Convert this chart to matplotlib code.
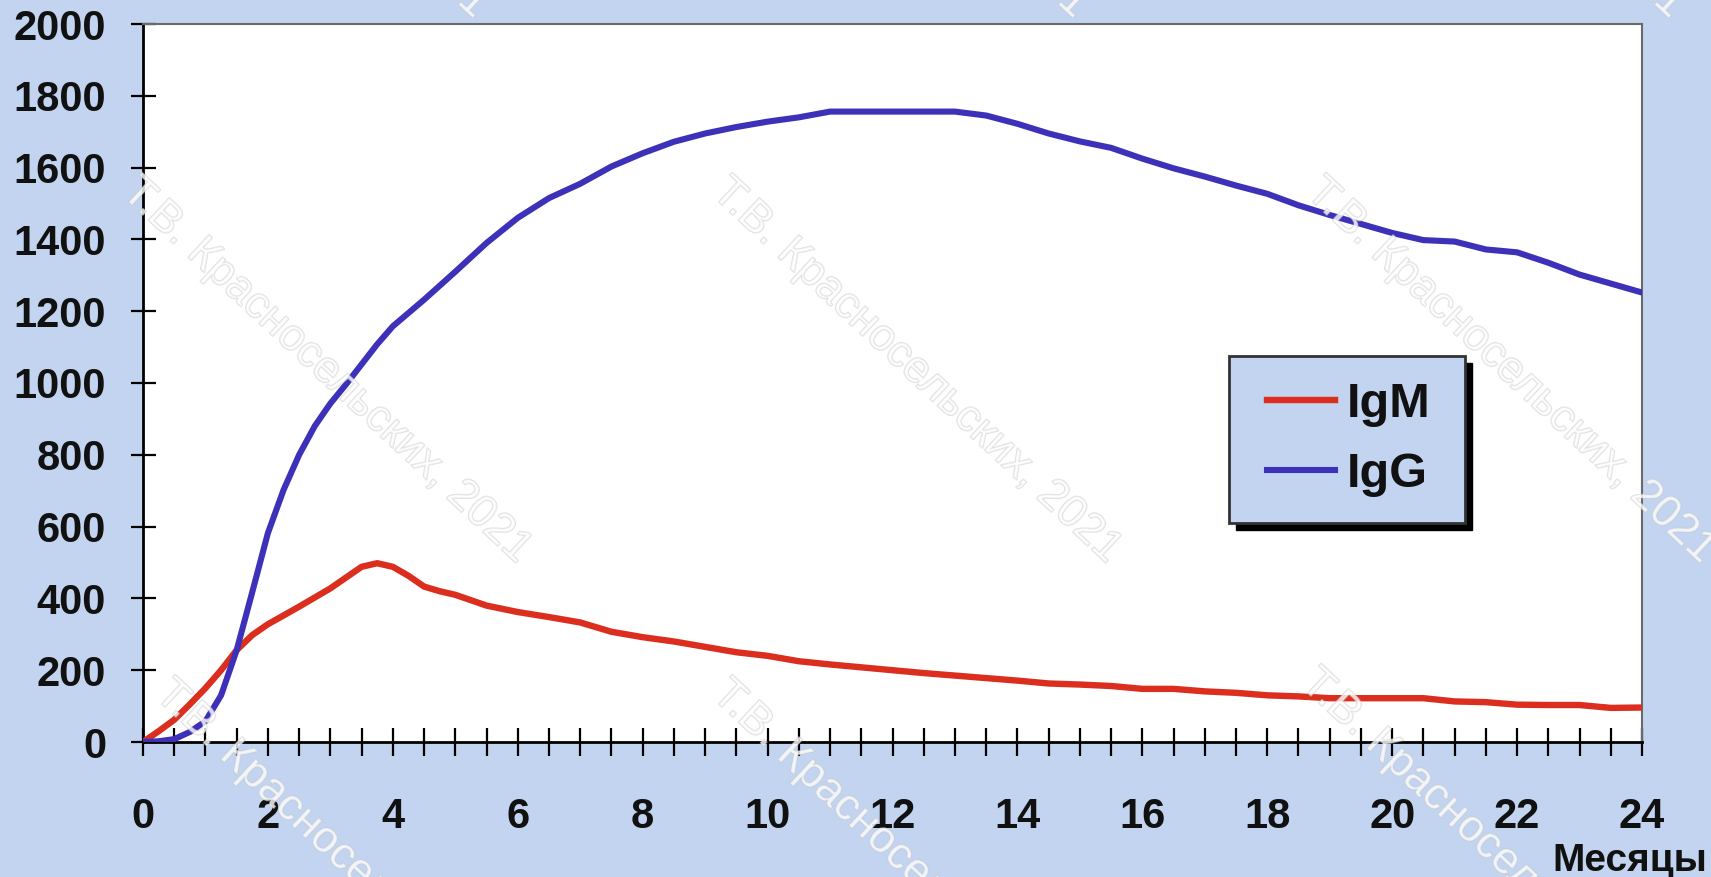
import matplotlib
matplotlib.use('Agg')
import matplotlib.pyplot as plt
from matplotlib import font_manager as fm
from matplotlib.ticker import MultipleLocator
from matplotlib.patches import Rectangle
import matplotlib.patheffects as pe

# ---- data ----
months_igg = [0, 0.25, 0.5, 0.75, 1.0, 1.25, 1.5, 1.75, 2.0, 2.25, 2.5, 2.75, 3.0, 3.25, 3.5,
              3.75, 4.0, 4.5, 5.0, 5.5, 6.0, 6.5, 7.0, 7.5, 8.0, 8.5, 9.0, 9.5, 10.0, 10.5,
              11.0, 12.0, 13.0, 13.5, 14.0, 14.5, 15.0, 15.5, 16.0, 16.5, 17.0, 17.5, 18.0,
              18.5, 19.0, 19.5, 20.0, 20.5, 21.0, 21.5, 22.0, 22.5, 23.0, 23.5, 24.0]
igg = [0, 2, 8, 28, 58, 130, 256, 418, 582, 702, 800, 880, 943, 996, 1052,
       1108, 1158, 1232, 1310, 1390, 1460, 1515, 1555, 1603, 1640, 1672, 1695, 1713, 1728, 1740,
       1756, 1756, 1756, 1745, 1722, 1695, 1673, 1655, 1625, 1598, 1575, 1550, 1527,
       1495, 1468, 1443, 1418, 1398, 1394, 1372, 1364, 1335, 1302, 1277, 1252]

months_igm = [0, 0.25, 0.5, 0.75, 1.0, 1.25, 1.5, 1.75, 2.0, 2.5, 3.0, 3.25, 3.5, 3.75, 4.0,
              4.25, 4.5, 4.75, 5.0, 5.5, 6.0, 6.5, 7.0, 7.5, 8.0, 8.5, 9.0, 9.5, 10.0, 10.5,
              11.0, 11.5, 12.0, 12.5, 13.0, 13.5, 14.0, 14.5, 15.0, 15.5, 16.0, 16.5, 17.0,
              17.5, 18.0, 18.5, 19.0, 19.5, 20.0, 20.5, 21.0, 21.5, 22.0, 22.5, 23.0, 23.5, 24.0]
igm = [0, 30, 62, 105, 150, 200, 256, 298, 328, 377, 428, 458, 488, 498, 488,
       463, 433, 420, 410, 380, 362, 348, 333, 307, 292, 280, 265, 250, 240, 225,
       216, 208, 200, 192, 185, 178, 171, 163, 160, 156, 148, 148, 141,
       137, 130, 127, 122, 122, 122, 122, 113, 111, 104, 103, 103, 95, 96]

x_ticks = list(range(0, 25, 2))
y_ticks = list(range(0, 2001, 200))
series_labels = ['IgM', 'IgG']
x_label = 'Месяцы'
watermark = 'Т.В. Красносельских, 2021'

# ---- style ----
W, H = 1711, 877
bg = '#c2d4ef'
red = '#dc2e1e'
blue = '#3c31b8'
font = 'Liberation Sans'

fig = plt.figure(figsize=(W / 100, H / 100), dpi=100)
fig.patch.set_facecolor(bg)
AX_L, AX_R, AX_T, AX_B = 143, 1642, 24, 742
ax = fig.add_axes([AX_L / W, (H - AX_B) / H, (AX_R - AX_L) / W, (AX_B - AX_T) / H])
ax.set_facecolor('white')


def axfrac(px, py):
    return (px - AX_L) / (AX_R - AX_L), (AX_B - py) / (AX_B - AX_T)


ax.plot(months_igm, igm, color=red, lw=4.6, label=series_labels[0], zorder=3,
        solid_joinstyle='round')
ax.plot(months_igg, igg, color=blue, lw=4.4, label=series_labels[1], zorder=3,
        solid_joinstyle='round')

ax.set_xlim(0, 24)
ax.set_ylim(0, 2000)
ax.set_xticks(x_ticks)
ax.set_yticks(y_ticks)
ax.xaxis.set_minor_locator(MultipleLocator(0.5))

for s in ['left', 'bottom']:
    ax.spines[s].set_color('black')
    ax.spines[s].set_linewidth(2.0)
for s in ['top', 'right']:
    ax.spines[s].set_color('#6a6a6a')
    ax.spines[s].set_linewidth(1.5)

ax.tick_params(axis='x', which='both', direction='inout', length=19.5, width=1.6,
               color='black', pad=30)
ax.tick_params(axis='y', which='both', direction='inout', length=18, width=1.6,
               color='black', pad=17.5)
for lab in ax.get_xticklabels() + ax.get_yticklabels():
    lab.set_fontfamily(font)
    lab.set_fontweight('bold')
    lab.set_fontsize(30)
    lab.set_color('#111111')

# legend box with hard shadow
bx0, by0, bx1, by1 = 1229, 356, 1465, 523
sx, sy = axfrac(bx0 + 7, by1 + 7)
ax.add_patch(Rectangle((sx, sy), (bx1 - bx0) / (AX_R - AX_L), (by1 - by0) / (AX_B - AX_T),
                       transform=ax.transAxes, facecolor='black', edgecolor='black',
                       clip_on=False, zorder=5))
lx, ly = axfrac(bx0, by1)
ax.add_patch(Rectangle((lx, ly), (bx1 - bx0) / (AX_R - AX_L), (by1 - by0) / (AX_B - AX_T),
                       transform=ax.transAxes, facecolor=bg, edgecolor='#333333', lw=2,
                       clip_on=False, zorder=5.5))
leg = ax.legend(loc='center', bbox_to_anchor=axfrac((bx0 + bx1) / 2 + 2, (by0 + by1) / 2),
                borderaxespad=0, borderpad=0, frameon=False,
                prop=fm.FontProperties(family=font, weight='bold', size=35),
                handlelength=1.4, handletextpad=0.25, labelspacing=0.5)
leg.set_zorder(6)
for t in leg.get_texts():
    t.set_color('#111111')

fig.text(1707 / W, (H - 871) / H, x_label, ha='right', va='baseline',
         fontsize=28, fontweight='bold', family=font, color='#111111')

# faint diagonal watermark
for cx, cy in [(327, 371), (917, 371), (1511, 371),
               (284, -174), (884, -174), (1480, -174),
               (360, 873), (917, 873), (1506, 862)]:
    fig.text(cx / W, 1 - cy / H, watermark, rotation=-43, ha='center', va='center',
             rotation_mode='anchor', fontsize=32, family=font,
             color='white', alpha=0.55, zorder=10,
             path_effects=[pe.withStroke(linewidth=1.2, foreground='#c8c8c8')])

fig.savefig('out.png', dpi=100, facecolor=fig.get_facecolor())
